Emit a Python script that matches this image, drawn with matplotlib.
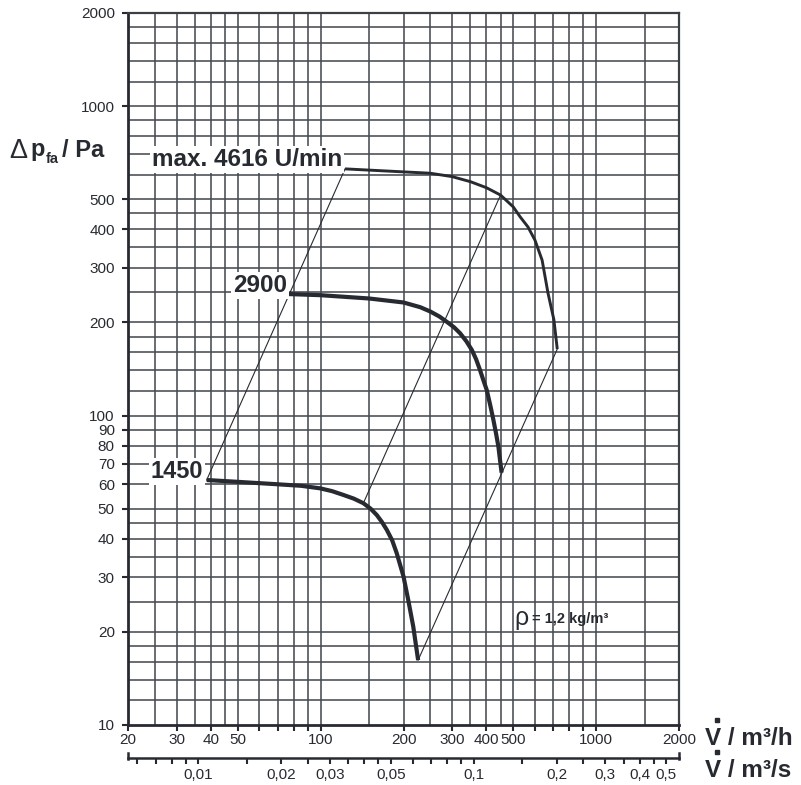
import matplotlib
matplotlib.use('Agg')
import matplotlib.pyplot as plt
from matplotlib.ticker import FixedLocator, NullLocator, FixedFormatter
from matplotlib.lines import Line2D

plt.rcParams['font.family'] = ['Liberation Sans', 'DejaVu Sans']

# ---------------- data ----------------
# fan curves (flow in m3/h, pressure in Pa)
x_4616 = [122.7, 194, 250, 300, 350, 400, 450, 500, 530, 566, 600, 637, 669, 703, 723]
y_4616 = [627, 614, 607, 592, 570, 545, 516, 473, 439, 407, 369, 318, 249, 204, 164]

x_2900 = [76.4, 99.5, 150, 200, 230, 250, 270, 287, 305, 321, 338, 354, 367, 379,
          390, 401, 413, 424, 434, 442, 448, 454]
y_2900 = [247, 245, 239, 232, 224, 217, 209, 201, 193, 184.5, 174, 163, 152, 140.4,
          130, 121, 108, 96.8, 87, 79.4, 72, 65.4]

x_1450 = [38.6, 49.6, 69.3, 85, 99.5, 110, 121, 132, 143, 152, 160, 167, 174, 182,
          189, 200, 208, 217, 226]
y_1450 = [61.9, 61.1, 60.0, 59.3, 58.2, 57.0, 55.4, 53.9, 52.1, 50.0, 47.7, 45.3,
          42.7, 39.5, 35.9, 30.2, 25.4, 20.8, 16.2]

# system parabolas (thin lines)
sys_x = [[38.6, 122.7], [143, 450], [226, 723]]
sys_y = [[61.9, 627], [52.1, 516], [16.2, 164]]

curve_labels = ['max. 4616 U/min', '2900', '1450']

# axes / grid values
x_grid = [25, 30, 35, 40, 45, 50, 60, 70, 80, 90, 100, 150, 200, 250, 300, 350,
          400, 450, 500, 600, 700, 800, 900, 1000, 1500]
y_grid = [12, 14, 16, 18, 20, 25, 30, 35, 40, 45, 50, 60, 70, 80, 90, 100, 120,
          140, 160, 180, 200, 250, 300, 350, 400, 450, 500, 600, 700, 800, 900,
          1000, 1200, 1400, 1600, 1800]
x_ticks = [20, 30, 40, 50, 60, 70, 80, 90, 100, 200, 300, 400, 500, 600, 700,
           800, 900, 1000, 2000]
x_ticklabels = ['20', '30', '40', '50', '', '', '', '', '100', '200', '300', '400',
                '500', '', '', '', '', '1000', '2000']
y_ticks = [10, 20, 30, 40, 50, 60, 70, 80, 90, 100, 200, 300, 400, 500, 1000, 2000]
y_ticklabels = [str(v) for v in y_ticks]
s_ticks = [0.006, 0.007, 0.008, 0.009, 0.01, 0.015, 0.02, 0.025, 0.03, 0.035, 0.04,
           0.045, 0.05, 0.06, 0.07, 0.08, 0.09, 0.1, 0.15, 0.2, 0.25, 0.3, 0.35,
           0.4, 0.45, 0.5]
s_labels = {0.01: '0,01', 0.02: '0,02', 0.03: '0,03', 0.05: '0,05', 0.1: '0,1',
            0.2: '0,2', 0.3: '0,3', 0.4: '0,4', 0.5: '0,5'}
xlim = (20, 2000)
ylim = (10, 2000)

# ---------------- figure ----------------
W, H = 801, 785
INK = '#272b31'
GRID = '#474c52'
fig = plt.figure(figsize=(W / 100, H / 100), dpi=100)


def fx(p):
    return p / W


def fy(p):
    return 1 - p / H


L, R, T, B = 128, 679, 13, 725
ax = fig.add_axes([fx(L), fy(B), (R - L) / W, (B - T) / H])
ax.set_xscale('log')
ax.set_yscale('log')
ax.set_xlim(*xlim)
ax.set_ylim(*ylim)

for v in x_grid:
    ax.axvline(v, color=GRID, lw=1.15, zorder=1)
for v in y_grid:
    ax.axhline(v, color=GRID, lw=1.15, zorder=1)

for xs, ys in zip(sys_x, sys_y):
    ax.plot(xs, ys, color=INK, lw=0.8, zorder=3)

ax.plot(x_4616, y_4616, color=INK, lw=2.1, zorder=4, solid_capstyle='butt',
        solid_joinstyle='round')
ax.plot(x_2900, y_2900, color=INK, lw=3.0, zorder=4, solid_capstyle='butt',
        solid_joinstyle='round')
ax.plot(x_1450, y_1450, color=INK, lw=3.0, zorder=4, solid_capstyle='butt',
        solid_joinstyle='round')

# curve labels
lab_pos = [(119.6, 641), (75.5, 251), (37.5, 62.9)]
lab_size = [17.5, 17.5, 17]
for txt, (lx, ly), fs in zip(curve_labels, lab_pos, lab_size):
    ax.text(lx, ly, txt, ha='right', va='baseline', fontsize=fs, fontweight='bold',
            color=INK, zorder=5,
            bbox=dict(boxstyle='square,pad=0.08', fc='white', ec='none'))

# ticks
ax.xaxis.set_major_locator(FixedLocator(x_ticks))
ax.xaxis.set_major_formatter(FixedFormatter(x_ticklabels))
ax.xaxis.set_minor_locator(NullLocator())
ax.yaxis.set_major_locator(FixedLocator(y_ticks))
ax.yaxis.set_major_formatter(FixedFormatter(y_ticklabels))
ax.yaxis.set_minor_locator(NullLocator())
ax.tick_params(axis='x', direction='out', length=4, width=1.5, pad=2,
               labelsize=11, colors=INK)
ax.tick_params(axis='y', direction='out', length=4.5, width=1.5, pad=5,
               labelsize=11, colors=INK)
for s in ['left', 'bottom']:
    ax.spines[s].set_linewidth(2.0)
    ax.spines[s].set_color(INK)
for s in ['top', 'right']:
    ax.spines[s].set_linewidth(1.6)
    ax.spines[s].set_color('#3c4046')
ax.set_zorder(2)

# secondary axis m3/s
ax2 = fig.add_axes([fx(L), fy(758), (R - L) / W, 0.0005])
ax2.set_xscale('log')
ax2.set_xlim(xlim[0] / 3600, xlim[1] / 3600)
ax2.patch.set_visible(False)
for s in ['left', 'right', 'top']:
    ax2.spines[s].set_visible(False)
ax2.spines['bottom'].set_linewidth(1.8)
ax2.spines['bottom'].set_color(INK)
ax2.set_yticks([])
ax2.xaxis.set_major_locator(FixedLocator(s_ticks))
ax2.xaxis.set_major_formatter(FixedFormatter([s_labels.get(v, '') for v in s_ticks]))
ax2.xaxis.set_minor_locator(NullLocator())
ax2.tick_params(axis='x', direction='out', length=4.5, width=1.5, pad=3,
                labelsize=11, colors=INK)
for xe in (L, R):
    fig.add_artist(Line2D([fx(xe), fx(xe)], [fy(753), fy(759)], color=INK, lw=1.8,
                          transform=fig.transFigure))

# axis titles
fig.text(fx(9), fy(158), '\u0394', fontsize=19.5, color=INK, ha='left', va='baseline')
fig.text(fx(30), fy(156), 'p', fontsize=17, fontweight='bold', color=INK,
         ha='left', va='baseline')
fig.text(fx(46), fy(163), 'fa', fontsize=10.5, fontweight='bold', color=INK,
         ha='left', va='baseline')
fig.text(fx(62), fy(157), '/ Pa', fontsize=17, fontweight='bold', color=INK,
         ha='left', va='baseline')

fig.text(fx(705), fy(745), 'V / m\u00b3/h', fontsize=17.5, fontweight='bold', color=INK,
         ha='left', va='baseline')
fig.text(fx(705), fy(777), 'V / m\u00b3/s', fontsize=17.5, fontweight='bold', color=INK,
         ha='left', va='baseline')
for yd in (720, 752):
    fig.add_artist(Line2D([fx(716.5)], [fy(yd)], marker='s', ms=3.2, color=INK, lw=0,
                          transform=fig.transFigure))

# density note
fig.text(fx(514), fy(625), '\u03c1', fontsize=18, color=INK, ha='left', va='baseline')
fig.text(fx(532), fy(623), '= 1,2 kg/m\u00b3', fontsize=10.5, fontweight='bold', color=INK,
         ha='left', va='baseline')

fig.savefig('out.png', dpi=100)
